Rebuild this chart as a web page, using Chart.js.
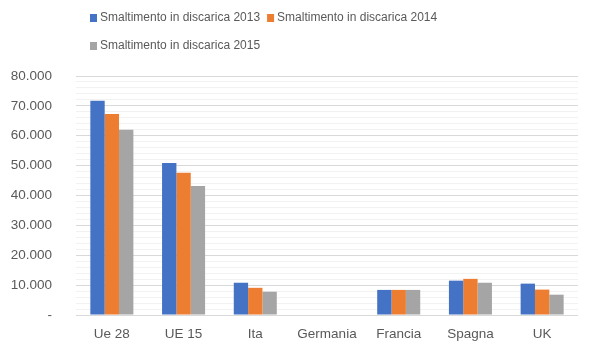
<!DOCTYPE html>
<html>
<head>
<meta charset="utf-8">
<script src="https://cdn.jsdelivr.net/npm/chart.js@4"></script>
<style>
html,body{margin:0;padding:0;background:#fff;}
#wrap{width:594px;height:351px;position:relative;}
</style>
</head>
<body>
<div id="wrap"><canvas id="c" width="594" height="351"></canvas></div>
<script>
const categories = ['Ue 28', 'UE 15', 'Ita', 'Germania', 'Francia', 'Spagna', 'UK'];
const seriesLabels = ['Smaltimento in discarica 2013', 'Smaltimento in discarica 2014', 'Smaltimento in discarica 2015'];
const values2013 = [71700, 50900, 10800, null, 8400, 11500, 10500];
const values2014 = [67300, 47600, 9100, null, 8400, 12100, 8500];
const values2015 = [62000, 43200, 7800, null, 8400, 10800, 6800];
const yMin = 0, yMax = 80000, yMajorStep = 10000, yMinorStep = 2000;
const colors = ['#4472C4', '#ED7D31', '#A5A5A5'];

function fmt(v) {
  if (v === 0) return '-';
  return String(v).replace(/\B(?=(\d{3})+(?!\d))/g, '.');
}

const FONT = '"Liberation Sans", Arial, sans-serif';

const legendPlugin = {
  id: 'customLegend',
  afterDraw(chart) {
    const ctx = chart.ctx;
    ctx.save();
    ctx.font = '12px ' + FONT;
    ctx.textBaseline = 'middle';
    const rows = [[0, 1], [2]];
    const rowY = [18, 46];
    rows.forEach((r, ri) => {
      let x = 90;
      r.forEach(i => {
        const ds = chart.data.datasets[i];
        ctx.fillStyle = ds.backgroundColor;
        ctx.fillRect(x, rowY[ri] - 4, 7, 8);
        x += 10;
        ctx.fillStyle = '#595959';
        ctx.fillText(ds.label, x, rowY[ri]);
        x += ctx.measureText(ds.label).width + 7;
      });
    });
    ctx.restore();
  }
};

const datasets = [values2013, values2014, values2015].map((vals, i) => ({
  label: seriesLabels[i],
  data: vals,
  backgroundColor: colors[i],
  borderWidth: 0,
  categoryPercentage: 0.6,
  barPercentage: 1.0
}));

new Chart(document.getElementById('c'), {
  type: 'bar',
  data: { labels: categories, datasets },
  options: {
    responsive: false,
    animation: false,
    layout: { padding: { top: 76, right: 16, left: 0, bottom: 0 } },
    plugins: { legend: { display: false }, tooltip: { enabled: false } },
    scales: {
      x: {
        afterFit(scale) { scale.height = 36; },
        grid: { display: false, drawTicks: false },
        border: { display: false },
        ticks: { color: '#595959', font: { family: FONT, size: 13.5 }, padding: 11, maxRotation: 0 }
      },
      y: {
        min: yMin, max: yMax,
        afterFit(scale) { scale.width = 76; },
        border: { display: false },
        grid: {
          drawTicks: false,
          color: c => (c.tick && c.tick.value % yMajorStep === 0) ? '#d9d9d9' : '#f2f2f2',
          lineWidth: 1
        },
        ticks: {
          stepSize: yMinorStep,
          autoSkip: false,
          padding: 24,
          color: '#595959',
          font: { family: FONT, size: 13.5 },
          callback: v => (v % yMajorStep === 0) ? fmt(v) : ''
        }
      }
    }
  },
  plugins: [legendPlugin]
});
</script>
</body>
</html>
